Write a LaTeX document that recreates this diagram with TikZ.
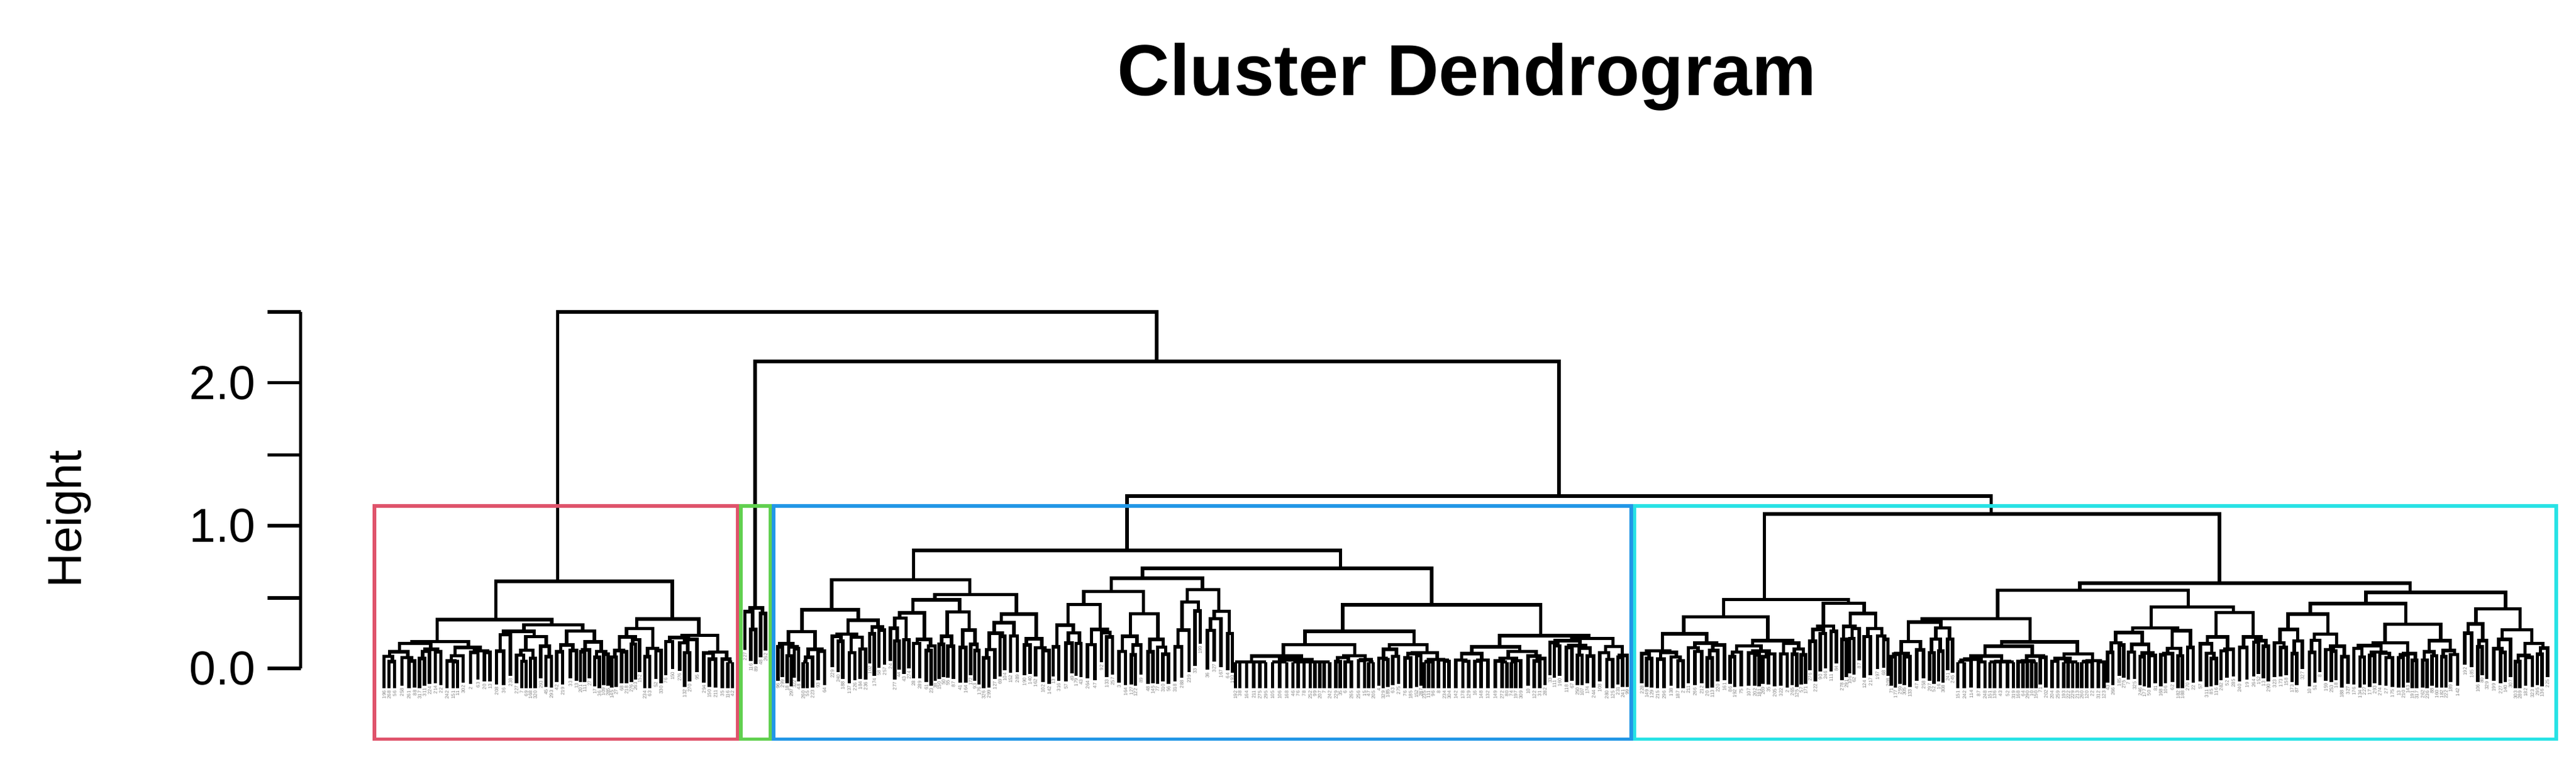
\documentclass[tikz,border=0pt]{standalone}
\usepackage{fontspec}
\setmainfont{Liberation Sans}
\definecolor{cred}{HTML}{DF536B}
\definecolor{cgreen}{HTML}{61D04F}
\definecolor{cblue}{HTML}{2297E6}
\definecolor{ccyan}{HTML}{28E2E5}
\tikzset{br/.style={line width=2.1pt,black},box/.style={line width=2.2pt},
lab/.style={rotate=90,anchor=east,inner sep=0.5pt,font=\fontsize{3}{3}\selectfont,gray}}
\newcommand\dnd[3]{%
\begingroup
\pgfmathsetmacro\dw{#2-#1}%
\pgfmathsetmacro\dc{(#1+#2)/2}%
\ifdim\dw pt<5pt
  \pgfmathsetmacro\ly{407-#3+16}%
  \pgfmathtruncatemacro\lb{1+330*rnd}%
  \draw[br] (\dc,407-#3) -- (\dc,\ly) node[lab]{\lb};
\else
  \pgfmathsetmacro\ds{#1+\dw*(0.3+0.4*rnd)}%
  \pgfmathsetmacro\hl{max(4,#3*(0.5+0.45*rnd))}%
  \pgfmathsetmacro\hr{max(4,#3*(0.5+0.45*rnd))}%
  \pgfmathsetmacro\lc{(#1+\ds)/2}%
  \pgfmathsetmacro\rc{(\ds+#2)/2}%
  \draw[br] (\lc,407-\hl) -- (\lc,407-#3) -- (\rc,407-#3) -- (\rc,407-\hr);
  \edef\tmp{\noexpand\dnd{#1}{\ds}{\hl}\noexpand\dnd{\ds}{#2}{\hr}}\tmp
\fi
\endgroup}
\begin{document}
\begin{tikzpicture}[x=1pt,y=-1pt]
\useasboundingbox (0,0) rectangle (1568,474);
\pgfmathsetseed{7}
\node[font=\fontsize{44}{48}\selectfont\bfseries] (title) at (893,47) {Cluster Dendrogram};
% axis
\draw[line width=2.1pt] (183,190) -- (183,407);
\foreach \y in {190,233,277,320,364,407} \draw[line width=2.1pt] (163,\y) -- (183,\y);
\node[anchor=east,font=\fontsize{29}{31}\selectfont] (t0) at (159,407) {0.0};
\node[anchor=east,font=\fontsize{29}{31}\selectfont] (t1) at (159,320) {1.0};
\node[anchor=east,font=\fontsize{29}{31}\selectfont] (t2) at (159,233) {2.0};
\node[rotate=90,font=\fontsize{29}{31}\selectfont] (ylab) at (42,316) {Height};
% subtrees
\dnd{232}{447}{53}
\dnd{452}{467}{37}
\dnd{472}{640}{54}
\dnd{640}{992}{61}
\dnd{998}{1150}{42}
\dnd{1150}{1552}{52}
% top structure
\draw[br] (556,354) -- (556,335) -- (816,335) -- (816,346);
\draw[br] (1074,365) -- (1074,313) -- (1351,313) -- (1351,355);
\draw[br] (686,335) -- (686,302) -- (1212,302) -- (1212,313);
\draw[br] (459.5,370) -- (459.5,220) -- (949,220) -- (949,302);
\draw[br] (339.5,354) -- (339.5,190) -- (704,190) -- (704,220);
% boxes
\draw[box,cred] (228,308) rectangle (449,450);
\draw[box,cgreen] (451,308) rectangle (469,450);
\draw[box,cblue] (471,308) rectangle (993,450);
\draw[box,ccyan] (995,308) rectangle (1556,450);
\end{tikzpicture}
\end{document}
